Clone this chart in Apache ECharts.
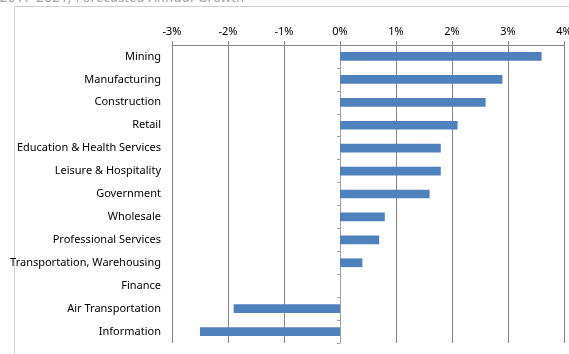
<!DOCTYPE html>
<html><head><meta charset="utf-8">
<script src="https://cdn.jsdelivr.net/npm/echarts@6/dist/echarts.min.js"></script>
<style>html,body{margin:0;padding:0;background:#fff}#c{width:569px;height:354px}</style>
</head><body><div id="c"></div>
<script>
const categories = ["Mining","Manufacturing","Construction","Retail","Education & Health Services","Leisure & Hospitality","Government","Wholesale","Professional Services","Transportation, Warehousing","Finance","Air Transportation","Information"];
const growth = [3.6, 2.9, 2.6, 2.1, 1.8, 1.8, 1.6, 0.8, 0.7, 0.4, 0, -1.9, -2.5];
const tickMin = -3, tickMax = 4, tickStep = 1;
const titleText = "2017-2021, Forecasted Annual Growth";

const chart = echarts.init(document.getElementById('c'), null, {renderer:'canvas'});
const font = "'Noto Sans', sans-serif";
chart.setOption({
  animation: false,
  graphic: [
    {type:'rect', left:12, top:4, shape:{width:600, height:400}, style:{fill:'none', stroke:'#d0d0d0', lineWidth:1}},
    {type:'text', left:0, top:-10, style:{text:titleText, fill:'#a6a6a6', font:"italic 14.5px 'Noto Sans', sans-serif"}}
  ],
  grid: {left:172, right:5, top:45, bottom:11, containLabel:false, outerBoundsMode:'none'},
  xAxis: {
    type:'value', position:'top', min:tickMin, max:tickMax, interval:tickStep,
    axisLine:{show:true, lineStyle:{color:'#868686'}},
    axisTick:{show:true, length:4, lineStyle:{color:'#868686'}},
    axisLabel:{formatter: v => v + '%', color:'#000', fontSize:11, fontFamily:font, margin:8},
    splitLine:{show:true, lineStyle:{color:'#868686', width:1}}
  },
  yAxis: [
    {type:'category', data:categories, inverse:true,
     axisLine:{show:false, onZero:false}, axisTick:{show:false},
     axisLabel:{color:'#000', fontSize:11, fontFamily:font, margin:11}},
    {type:'category', data:categories, inverse:true, position:'left',
     axisLine:{show:true, onZero:true, lineStyle:{color:'#a0a0a0'}},
     axisTick:{show:true, length:3, lineStyle:{color:'#a0a0a0'}},
     axisLabel:{show:false}}
  ],
  series: [{
    type:'bar', data:growth, yAxisIndex:0, barCategoryGap:'62%',
    itemStyle:{color:'#4F81BD'}
  }]
});
</script></body></html>
